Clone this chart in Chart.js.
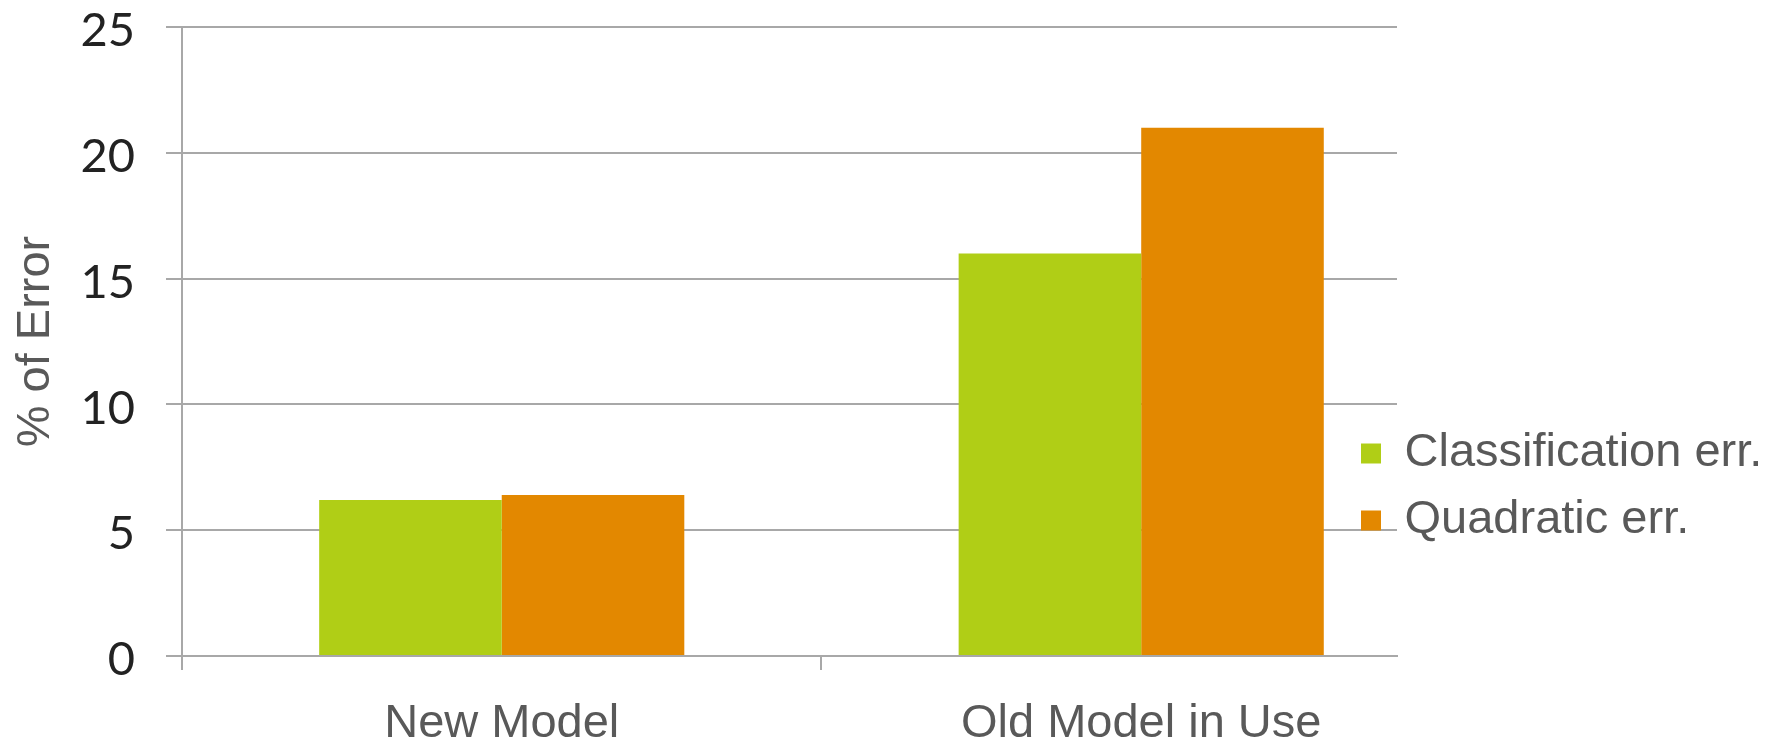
<!DOCTYPE html>
<html>
<head>
<meta charset="utf-8">
<script src="https://cdn.jsdelivr.net/npm/chart.js@4/dist/chart.umd.min.js"></script>
<style>
    html, body { margin: 0; padding: 0; background: #fff; }
    #wrap { width: 1777px; height: 742px; position: relative; }
</style>
</head>
<body>
<div id="wrap"><canvas id="chart"></canvas></div>
<script>
const categories = ['New Model', 'Old Model in Use'];
const classificationErr = [6.2, 16.0];
const quadraticErr = [6.4, 21.0];
const yMin = 0, yMax = 25, yStep = 5;

const gridGrey = '#a8a8a8';
const textGrey = '#595959';

// legend sits partly over the plot in the original, move it a bit
const legendNudge = {
    id: 'legendNudge',
    afterLayout(chart) {
        const lg = chart.legend;
        lg.left -= 56;
        lg.top += 116; lg.bottom += 116;
    }
};

const toPoints = arr => arr.map((v, i) => ({ x: i, y: v }));

new Chart(document.getElementById('chart').getContext('2d'), {
    type: 'bar',
    data: {
        datasets: [{
            label: 'Classification err.',
            data: toPoints(classificationErr),
            backgroundColor: '#b0ce16',
            borderWidth: 0
        }, {
            label: 'Quadratic err.',
            data: toPoints(quadraticErr),
            backgroundColor: '#e38800',
            borderWidth: 0
        }]
    },
    options: {
        responsive: true,
        maintainAspectRatio: false,
        animation: false,
        layout: { padding: 0 },
        datasets: { bar: { categoryPercentage: 0.571, barPercentage: 1 } },
        plugins: {
            tooltip: { enabled: false },
            legend: {
                position: 'right',
                maxWidth: 380,
                labels: {
                    font: { family: 'Liberation Sans', size: 47 },
                    color: textGrey,
                    boxWidth: 20,
                    boxHeight: 20,
                    padding: 20
                }
            }
        },
        scales: {
            x: {
                type: 'linear',
                min: -0.5,
                max: 1.4,
                offset: false,
                afterBuildTicks: s => { s.ticks = categories.map((c, i) => ({ value: i })); },
                afterFit: s => { s.height = 86; },
                ticks: {
                    callback: v => categories[v],
                    font: { family: 'Liberation Sans', size: 47 },
                    color: textGrey,
                    padding: 26,
                    maxRotation: 0,
                    autoSkip: false
                },
                grid: { offset: true, drawOnChartArea: false, tickLength: 14, color: gridGrey, lineWidth: 2 },
                border: { color: gridGrey, width: 2 }
            },
            y: {
                min: yMin,
                max: yMax,
                afterFit: s => { s.width = 182; s.paddingTop = 27; s.paddingBottom = 0; },
                ticks: {
                    stepSize: yStep,
                    font: { family: 'Lato', size: 47 },
                    color: '#222222',
                    padding: 31,
                    labelOffset: 4
                },
                grid: { color: gridGrey, lineWidth: 2, tickLength: 16 },
                border: { color: gridGrey, width: 2 },
                title: {
                    display: true,
                    text: '% of Error',
                    font: { family: 'Liberation Sans', size: 47 },
                    color: textGrey,
                    padding: { top: 8, bottom: 0 }
                }
            }
        }
    },
    plugins: [legendNudge]
});
</script>
</body>
</html>
